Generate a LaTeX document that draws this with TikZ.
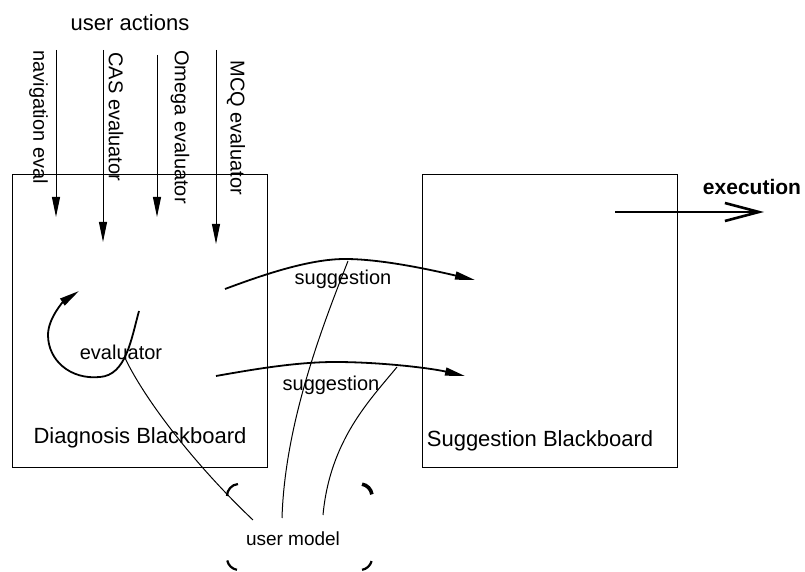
\documentclass[tikz,border=0pt]{standalone}
\usepackage{fontspec}
\setmainfont{Liberation Sans}
\usepackage{tikz}
\usetikzlibrary{calc,positioning,arrows.meta,shapes}

\tikzset{
  board/.style = {draw, line width=.5pt, inner sep=0pt},
  boardname/.style = {font=\fontsize{11}{13}\selectfont},
  evalname/.style = {rotate=-90, anchor=west, inner sep=1pt},
  flow/.style = {line width=.9pt, -{Triangle[length=10pt,width=4pt]}},
  model/.style = {line width=.5pt},
}

\begin{document}
\begin{tikzpicture}[x = .5pt, y = -.5pt]
\useasboundingbox (0,0) rectangle (805,572);

% the two blackboards
\node[board, minimum width=127.5pt, minimum height=146.5pt] (diag) at (139.5,321.5) {};
\node[board, minimum width=127.5pt, minimum height=146.5pt] (sugg) at (549.5,321.5) {};
\node[boardname] (diagname) at (140,438) {Diagnosis Blackboard};
\node[boardname] (suggname) at (540,441) {Suggestion Blackboard};

% user actions coming in from above
\node[font=\fontsize{11}{13}\selectfont] (actions) at (130,23) {user actions};
\foreach \x/\top/\bot/\name/\lx/\ly in {
    56/50/217/navigation eval/38.5/48,
    103/50/242/CAS evaluator/116/50,
    157/55/217/Omega evaluator/180/48,
    216/50/244/MCQ evaluator/236/58}{
  \coordinate (in\x) at (\x,\top);
  \coordinate (out\x) at (\x,\bot);
  \draw[line width=.5pt, -{Triangle[length=10pt,width=4pt]}] (in\x) -- (out\x);
  \node[evalname] at (\lx,\ly) {\name};
}

% evaluator loop inside the diagnosis board
\coordinate (loopa) at (139,311);
\coordinate (loopx) at (125,358);
\coordinate (loopb) at (79,291);
\draw[flow] (loopa) .. controls (131,340) and (126,375) .. (100,377)
  .. controls (70,380) and (48,360) .. (48,335)
  .. controls (48,318) and (64,301) .. (loopb);
\node (evaluator) at (121,352) {evaluator};

% suggestions passed to the suggestion board
\coordinate (sga) at (225,289);
\coordinate (sgp) at (345,259);
\coordinate (sgb) at (475,280);
\draw[flow] (sga) .. controls (265,274) and (310,259) .. (sgp)
  .. controls (385,259) and (440,272) .. (sgb);
\node (sugg1) at (343,279) {suggestion};

\coordinate (sha) at (216,376);
\coordinate (shp) at (335,362);
\coordinate (shb) at (465,376);
\draw[flow] (sha) .. controls (250,370) and (295,362) .. (shp)
  .. controls (380,362) and (430,368) .. (shb);
\node (sugg2) at (331,385) {suggestion};

% execution
\coordinate (exa) at (615,212);
\coordinate (exb) at (764,212);
\draw[line width=1.3pt, -{Straight Barb[length=17pt,width=9pt,line width=1.3pt]}] (exa) -- (exb);
\node[font=\bfseries\fontsize{10.5}{12}\selectfont] (exec) at (752,187) {execution};

% user model
\node[font=\fontsize{9.5}{11}\selectfont] (um) at (293,539) {user model};
\foreach \cx/\cy/\a/\b/\w in {239/496/180/265/1.1pt, 360/496/280/352/1.8pt,
                              239/558/100/168/1.1pt, 360/558/15/80/1.1pt}
  \draw[line width=\w] ($(\cx,\cy)+(\a:12)$) arc[start angle=\a, end angle=\b, radius=12];
\coordinate (uma) at (253,520);
\coordinate (umb) at (282,518);
\coordinate (umd) at (323,515);
\draw[model] (loopx) .. controls (145,400) and (195,465) .. (uma);
\draw[model] (348,261) .. controls (325,320) and (285,420) .. (umb);
\draw[model] (397,367) .. controls (370,400) and (330,440) .. (umd);
%\draw (um.north) -- (um.south);
\end{tikzpicture}
\end{document}
